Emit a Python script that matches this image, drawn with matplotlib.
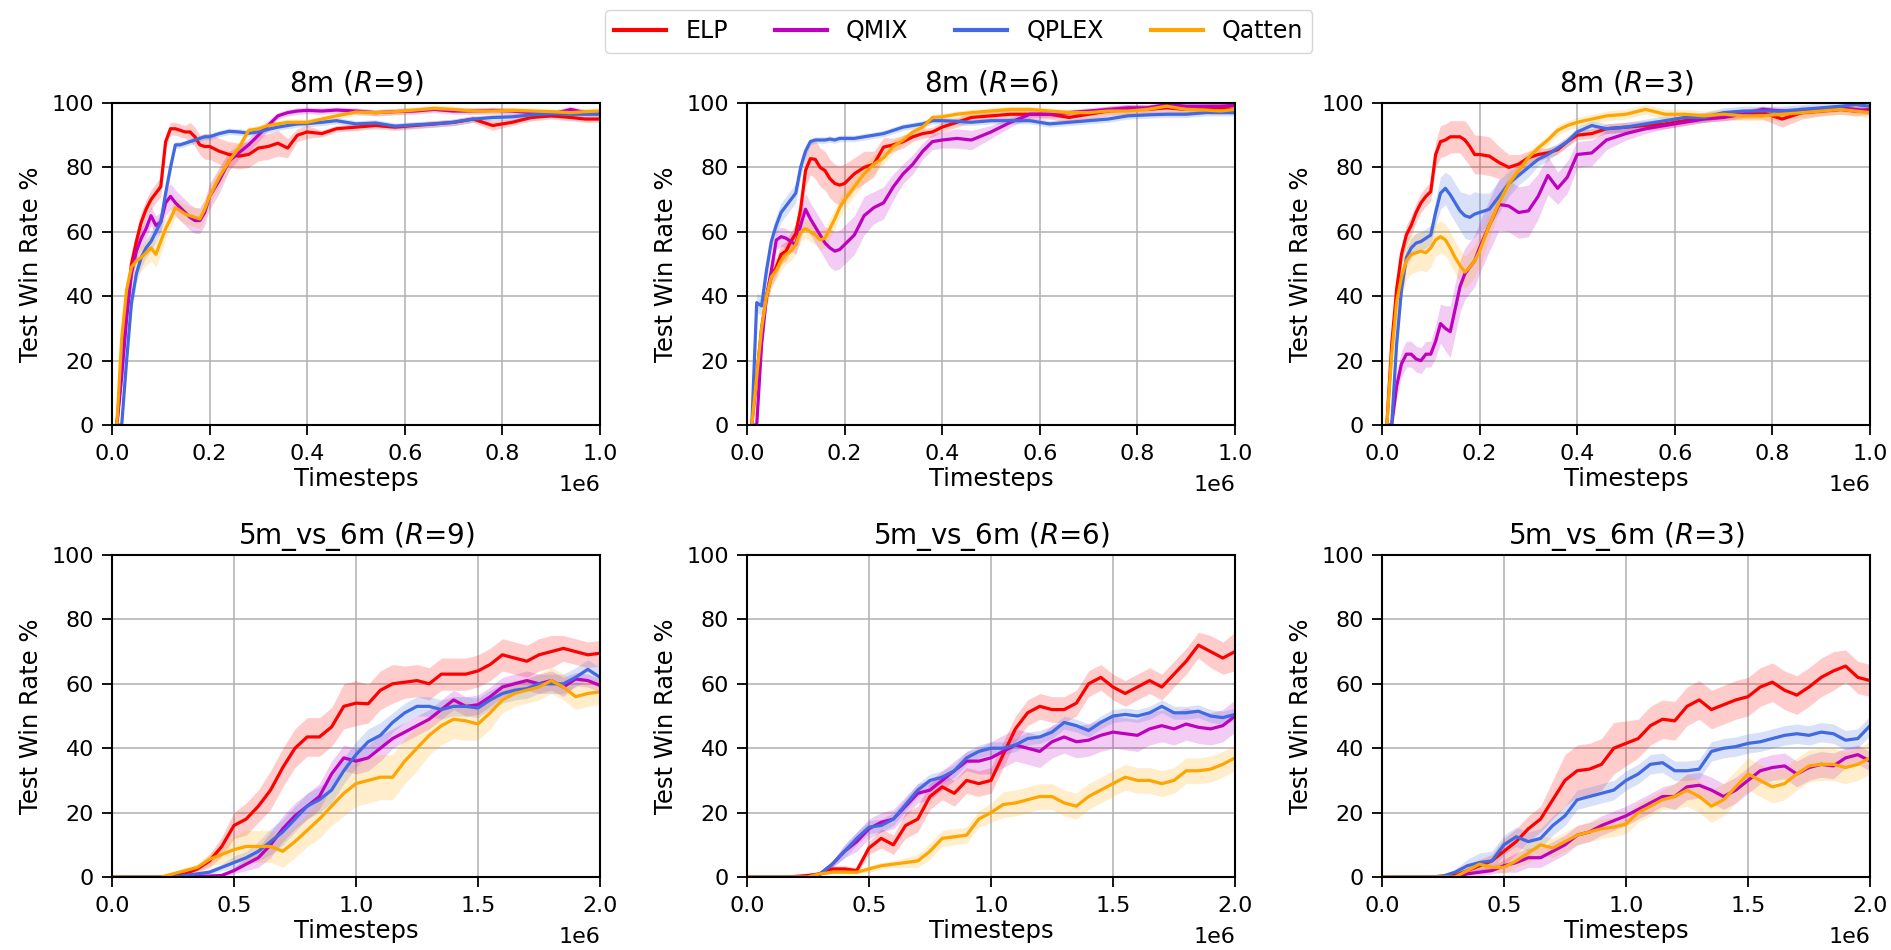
import numpy as np
import matplotlib
matplotlib.use("Agg")
from matplotlib import pyplot as plt

# shared x grids (timesteps)
x_8m = [0.01, 0.02, 0.03, 0.04, 0.05, 0.06, 0.07, 0.08, 0.09, 0.10,
        0.11, 0.12, 0.13, 0.14, 0.15, 0.16, 0.17, 0.18, 0.19, 0.20,
        0.22, 0.24, 0.26, 0.28, 0.30, 0.32, 0.34, 0.36, 0.38, 0.40,
        0.43, 0.46, 0.50, 0.54, 0.58, 0.62, 0.66, 0.70, 0.74, 0.78,
        0.82, 0.86, 0.90, 0.94, 0.97, 1.00]
x_5v6 = [0.00, 0.05, 0.10, 0.15, 0.20, 0.25, 0.30, 0.35, 0.40, 0.45,
         0.50, 0.55, 0.60, 0.65, 0.70, 0.75, 0.80, 0.85, 0.90, 0.95,
         1.00, 1.05, 1.10, 1.15, 1.20, 1.25, 1.30, 1.35, 1.40, 1.45,
         1.50, 1.55, 1.60, 1.65, 1.70, 1.75, 1.80, 1.85, 1.90, 1.95, 2.00]

methods = ['ELP', 'QMIX', 'QPLEX', 'Qatten']
colors = ['red', 'm', 'royalblue', 'orange']
titles = [r'8m ($R$=9)', r'8m ($R$=6)', r'8m ($R$=3)',
          r'5m_vs_6m ($R$=9)', r'5m_vs_6m ($R$=6)', r'5m_vs_6m ($R$=3)']

# ---- 8m, R=9 ----
elp_8m_r9 = [0, 18, 36, 50, 57, 63, 67, 70, 72, 74,
             88, 92, 92, 91.5, 91, 91, 89.5, 87, 86.5, 86.5,
             85, 84, 83.5, 84, 86, 86.5, 87.5, 86, 90, 91,
             90.5, 92, 92.5, 93, 92.5, 93, 93.5, 94, 95, 93,
             94, 95.5, 96, 95.5, 95, 95]
elp_8m_r9_sd = [0, 3, 3, 3, 3, 3, 3, 3, 3, 3,
                2, 2, 2, 2, 2, 3, 3, 3, 4, 4,
                4, 4, 4, 4, 4, 4, 4, 3, 2, 2,
                1, 1, 1, 1, 1, 1, 1, 1, 1, 1.5,
                1, 1, 1, 1, 1, 1]
qmix_8m_r9 = [0, 15, 33, 47, 54, 58, 61, 65, 62, 63,
              69, 71, 69, 67.5, 66, 64.5, 63.5, 63.5, 66, 71,
              76, 82, 84.5, 87, 90, 93, 96, 97, 97.5, 97.7,
              97.5, 97.8, 97.5, 97, 97.3, 97.5, 98, 97.5, 97.5, 97.7,
              97.5, 97, 96.5, 98, 97, 97]
qmix_8m_r9_sd = [0, 3, 3, 3, 3, 3, 3, 3, 3, 3,
                 4, 4, 4, 4, 4, 4, 4, 4, 4, 4,
                 4, 3, 2, 2, 2, 1.5, 1, 1, 1, 1,
                 1, 1, 1, 1, 1, 1, 1, 1, 1, 1,
                 1, 1, 1, 1, 1, 1]
qplex_8m_r9 = [0, 0, 20, 38, 47, 52, 55, 57, 60, 63,
               72, 80, 87, 87, 87.5, 88, 88.5, 89, 89.5, 89.5,
               90.5, 91.2, 91, 90.6, 91, 91.8, 92.5, 93, 93.5, 93.6,
               94, 94.5, 93.5, 93.8, 92.8, 93.2, 93.5, 94, 95, 95.5,
               95.7, 96.3, 96.7, 96.5, 96.5, 96.5]
qplex_8m_r9_sd = [0, 0, 3, 3, 3, 3, 3, 3, 3, 3,
                  2, 2, 1, 1, 1, 1, 1, 1, 1, 1,
                  1, 1, 1, 1, 1, 1, 1, 1, 1, 1,
                  1, 1, 1, 1, 1, 1, 1, 1, 1, 1,
                  1, 1, 1, 1, 1, 1]
qatten_8m_r9 = [0, 27, 42, 49, 51, 52, 53.5, 55, 53, 57,
                61, 64, 67.5, 66.5, 65.5, 65, 64.5, 64, 67, 71,
                77, 82, 86, 91.5, 92, 93, 93.5, 94, 94, 94,
                95, 96, 97.2, 97, 97.3, 97.8, 98.3, 98, 97.5, 97.5,
                97.7, 97.5, 97.3, 97, 97.3, 97.5]
qatten_8m_r9_sd = [0, 4, 4, 4, 4, 4, 4, 4, 4, 4,
                   3, 3, 3, 3, 3, 3, 3, 3, 3, 3,
                   3, 3, 2, 1, 1, 1, 1, 1, 1, 1,
                   1, 1, 1, 1, 1, 1, 1, 1, 1, 1,
                   1, 1, 1, 1, 1, 1]

# ---- 8m, R=6 ----
elp_8m_r6 = [0, 15, 30, 40, 46, 49, 53, 54, 57, 59.5,
             67, 79, 82.7, 82.5, 80, 79, 76.5, 75, 74.5, 75,
             78, 80, 81, 86.3, 87, 88, 89.5, 90.5, 91, 92.5,
             94, 95.5, 96, 96.5, 96.5, 96.5, 95.5, 96.5, 97.5, 98,
             98, 98.5, 98, 98.2, 98.5, 98]
elp_8m_r6_sd = [0, 3, 3, 3, 3, 3, 3, 3, 3, 3,
                4, 5, 5, 6, 6, 6, 6, 6, 6, 6,
                5, 5, 4, 3, 2, 2, 1.5, 1.5, 1.5, 1.5,
                1.5, 1.5, 1.5, 1.5, 1.5, 1.5, 1.5, 1.5, 1.5, 1.5,
                1.5, 1.5, 1.5, 1.5, 1.5, 1.5]
qmix_8m_r6 = [0, 0, 25, 40, 48, 57.4, 58.5, 58, 57, 56,
              62, 67, 64, 61.5, 59, 56.5, 55, 54, 54.5, 56,
              59, 65, 67.5, 69, 74, 78, 81, 85, 88, 88.5,
              89, 88.5, 91, 94, 96.5, 96.5, 97, 97.5, 98, 98.5,
              98.5, 99.5, 99, 99, 99, 99.3]
qmix_8m_r6_sd = [0, 0, 3, 3, 3, 3, 3, 3, 3, 3,
                 4, 5, 5, 5, 5, 5, 6, 6, 6, 6,
                 6, 6, 5, 5, 4, 3, 3, 2.5, 2.5, 2.5,
                 3, 3, 2, 1.5, 1, 1, 1, 1, 1, 1,
                 1, 1, 1, 1, 1, 1]
qplex_8m_r6 = [0, 38, 37, 48, 57, 62, 66, 68, 70, 72,
               80, 85, 88, 88.5, 88.5, 88.5, 88.8, 88.5, 89, 89,
               89, 89.5, 90, 90.5, 91.5, 92.5, 93, 93.5, 94.5, 94.5,
               94.3, 94, 94.5, 94.5, 94.5, 93.5, 94, 94.5, 95, 96,
               96.3, 96.5, 96.5, 97, 97, 97]
qplex_8m_r6_sd = [0, 3, 3, 3, 3, 3, 3, 3, 3, 3,
                  3, 2, 1, 1, 1, 1, 1, 1, 1, 1,
                  1, 1, 1, 1, 1, 1, 1, 1, 1, 1,
                  1, 1, 1, 1, 1, 1, 1, 1, 1, 1,
                  1, 1, 1, 1, 1, 1]
qatten_8m_r6 = [0, 15, 30, 40, 46, 48, 51, 53, 54, 56,
                60, 61, 60, 59, 57.5, 58, 61, 64, 67.5, 70,
                74, 78, 81, 83, 86.5, 88.5, 91, 92.5, 95.5, 95.7,
                96.5, 97, 97.5, 98, 98, 97.5, 97, 97, 97.5, 97.5,
                98, 99, 98, 97.8, 97.5, 98]
qatten_8m_r6_sd = [0, 3, 3, 3, 3, 3, 3, 3, 3, 3,
                   3, 3, 3, 3, 3, 3, 3, 3, 3, 3,
                   3, 3, 3, 2, 2, 1.5, 1, 1, 1, 1,
                   1, 1, 1, 1, 1, 1, 1, 1, 1, 1,
                   1, 1, 1, 1, 1, 1]

# ---- 8m, R=3 ----
elp_8m_r3 = [0, 25, 42, 53, 59, 62, 66, 69, 71, 72.5,
             84, 88, 88.5, 89.5, 89.5, 89.5, 88.5, 86.5, 84, 84,
             83.5, 81.5, 80, 81, 83, 84, 84.5, 85.5, 88, 90,
             90.5, 92, 92.5, 93, 93.5, 94.5, 95.5, 96, 96.5, 97,
             95, 97, 97.5, 98, 97.5, 98]
elp_8m_r3_sd = [0, 3, 3, 3, 3, 3, 3, 3, 3, 3,
                4, 5, 5, 5, 5, 5, 6, 6, 6, 6,
                6, 5, 4, 3, 2, 2, 1.5, 1.5, 1.5, 1.5,
                1.5, 1.5, 1.5, 1.5, 1.5, 1.5, 1.5, 1.5, 1.5, 2,
                2.5, 2, 1.5, 1.5, 1.5, 1.5]
qmix_8m_r3 = [0, 0, 12, 19, 22, 22, 20.5, 20, 22, 22,
              26, 31.5, 30, 29, 36, 43, 47, 49, 51, 55,
              62, 68.5, 68, 66, 66.5, 71, 77.5, 73.5, 77, 84,
              84.5, 88.5, 90.5, 92, 93, 94, 95, 95.5, 96.5, 98,
              97.5, 97.5, 98, 98.5, 98, 97.5]
qmix_8m_r3_sd = [0, 0, 4, 4, 4, 4, 4, 4, 4, 4,
                 5, 6, 7, 8, 8, 8, 8, 8, 8, 8,
                 8, 8, 8, 8, 8, 7, 6, 5, 5, 4,
                 4, 3, 2, 1.5, 1, 1, 1, 1, 1, 1,
                 1, 1, 1, 1, 1, 1]
qplex_8m_r3 = [0, 0, 25, 42, 52, 55, 56.5, 57, 58, 59,
               66, 72, 73.5, 71.5, 69, 66.5, 65, 64.5, 65.5, 66,
               67, 71, 75, 77.5, 80, 82.5, 84, 86, 88, 91,
               93, 92, 92.5, 93.5, 94.5, 95.5, 95.5, 97, 97.5, 97.5,
               97.5, 98, 98.5, 99, 99.5, 99]
qplex_8m_r3_sd = [0, 0, 3, 3, 3, 3, 3, 3, 3, 3,
                  4, 5, 5, 6, 6, 6, 7, 7, 7, 6,
                  5, 5, 4, 3, 3, 2, 2, 1.5, 1.5, 1.5,
                  1.5, 1.5, 1.5, 1.5, 1.5, 1.5, 1.5, 1.5, 1.5, 1.5,
                  1.5, 1.5, 1.5, 1.5, 1.5, 1.5]
qatten_8m_r3 = [0, 22, 38, 46, 51, 53, 53.5, 54, 53.5, 55,
                57.5, 58.5, 57.5, 55, 52, 49.5, 47.5, 49, 51, 54,
                62, 69, 75, 79, 83, 86, 88.5, 91.5, 93, 94,
                95, 96, 96.5, 98, 96.5, 96.5, 96, 96.5, 96, 96,
                96.5, 97, 97.5, 98, 97.5, 97]
qatten_8m_r3_sd = [0, 6, 6, 6, 6, 6, 6, 6, 6, 6,
                   5, 5, 5, 5, 5, 5, 5, 5, 5, 5,
                   4, 3, 3, 2, 2, 1.5, 1.5, 1.5, 1.5, 1.5,
                   1.5, 1.5, 1.5, 1.5, 1.5, 1.5, 1.5, 1.5, 1.5, 1.5,
                   1.5, 1.5, 1.5, 1.5, 1.5, 1.5]

# ---- 5m_vs_6m, R=9 ----
elp_5v6_r9 = [0, 0, 0, 0, 0, 0.5, 1, 2.5, 5, 9.5,
              16, 18, 22, 27, 34, 40, 43.5, 43.5, 46.6, 53,
              54, 53.8, 58, 60, 60.5, 61, 60, 63, 63, 63,
              64, 66, 69, 68, 67, 69, 70, 71, 70, 69, 69.5]
elp_5v6_r9_sd = [0, 0, 0, 0, 0, 0.3, 0.5, 1, 2, 3,
                 4, 5, 5, 6, 6, 6, 6, 6, 6, 7,
                 7, 6, 6, 6, 5, 5, 5, 5, 5, 5,
                 5, 5, 5, 5, 5, 5, 5, 4, 4, 4, 4]
qmix_5v6_r9 = [0, 0, 0, 0, 0, 0, 0, 0.2, 0.3, 0.5,
               2, 4, 6, 10, 15, 19, 22, 25, 32, 37,
               36, 37, 40, 43, 45, 47, 49, 52, 55, 53,
               53.5, 56, 59, 60, 61, 60, 61, 59, 61.5, 61, 59.5]
qmix_5v6_r9_sd = [0, 0, 0, 0, 0, 0, 0, 0.2, 0.3, 0.5,
                  1, 2, 3, 4, 4, 4, 4, 4, 4, 4,
                  4, 4, 4, 3, 3, 3, 3, 3, 3, 3,
                  3, 3, 3, 3, 3, 3, 3, 3, 2, 2, 2]
qplex_5v6_r9 = [0, 0, 0, 0, 0, 0, 0.5, 1, 1.5, 3,
                4.5, 6, 8, 11, 14, 18, 22, 24, 27, 33,
                38, 42, 44, 48, 51, 53, 53, 52, 53, 53,
                52.5, 55, 57, 58, 58.5, 60, 60, 60, 62, 64.5, 62]
qplex_5v6_r9_sd = [0, 0, 0, 0, 0, 0, 0.3, 0.5, 1, 1,
                   2, 2, 3, 4, 4, 4, 4, 4, 4, 4,
                   4, 4, 4, 3, 3, 3, 3, 3, 3, 3,
                   3, 3, 3, 3, 3, 3, 3, 3, 3, 3, 3]
qatten_5v6_r9 = [0, 0, 0, 0, 0, 1, 2, 3, 5.5, 7,
                 8.5, 9.5, 9.5, 9.5, 8, 11, 14.5, 18, 22, 26,
                 29, 30, 31, 31, 36, 40, 44, 47, 49, 48.5,
                 47.5, 51, 55, 57, 58, 59, 61, 59, 56, 57, 57.5]
qatten_5v6_r9_sd = [0, 0, 0, 0, 0, 0.5, 1, 1, 2, 3,
                    4, 5, 5, 5, 5, 5, 5, 6, 6, 7,
                    7, 7, 7, 7, 7, 7, 6, 6, 6, 6,
                    5, 5, 4, 4, 4, 4, 4, 4, 4, 4, 4]

# ---- 5m_vs_6m, R=6 ----
elp_5v6_r6 = [0, 0, 0, 0, 0.2, 0.5, 1, 2.5, 2.5, 2,
              9, 12, 10, 16, 18, 25, 28, 26, 30, 29,
              30, 38, 46, 51, 53, 52, 52, 54, 60, 62,
              59, 57, 59, 61, 59, 63, 67, 72, 70, 68, 70]
elp_5v6_r6_sd = [0, 0, 0, 0, 0, 0.3, 0.5, 1, 1, 1,
                 2, 3, 3, 4, 4, 4, 4, 4, 4, 4,
                 4, 4, 4, 4, 4, 4, 4, 4, 4, 4,
                 4, 4, 4, 4, 4, 4, 4, 4, 5, 5, 6]
qmix_5v6_r6 = [0, 0, 0, 0, 0, 0, 1, 4, 8, 11,
               15, 17, 18, 22, 26, 27, 30, 33, 36, 36,
               37, 39, 41, 40, 39, 42, 43.5, 42, 42.5, 44,
               45, 44.5, 44, 46, 47, 46, 47.5, 46.5, 46, 47, 50]
qmix_5v6_r6_sd = [0, 0, 0, 0, 0, 0, 0.5, 1, 2, 3,
                  3, 3, 3, 3, 3, 3, 3, 3, 3, 4,
                  5, 5, 5, 5, 5, 5, 5, 5, 5, 5,
                  5, 5, 5, 5, 5, 5, 5, 5, 5, 5, 5]
qplex_5v6_r6 = [0, 0, 0, 0, 0, 0, 1, 4, 8, 12,
                15.5, 16, 18, 22.5, 27, 30, 31, 33, 37, 39,
                40, 40, 41, 43, 43.5, 45, 48, 47, 45.5, 48,
                50, 50.5, 50, 51, 53, 51, 51, 51.5, 50, 49.5, 50.5]
qplex_5v6_r6_sd = [0, 0, 0, 0, 0, 0, 0.5, 1, 2, 2,
                   2, 2, 2, 2, 2, 2, 2, 2, 2, 2,
                   2, 2, 2, 2, 2, 2, 2, 2, 2, 2,
                   2, 2, 2, 2, 2, 2, 2, 2, 2, 2, 2]
qatten_5v6_r6 = [0, 0, 0, 0, 0, 0, 1, 1.5, 1.5, 1.5,
                 2.5, 3.5, 4, 4.5, 5, 8, 12, 12.5, 13, 18,
                 20, 22.5, 23, 24, 25, 25, 23, 22, 25, 27,
                 29, 31, 30, 30, 29, 30, 33, 33, 33.5, 35, 37]
qatten_5v6_r6_sd = [0, 0, 0, 0, 0, 0, 0.5, 0.5, 0.5, 0.5,
                    1, 1, 1, 1.5, 2, 2.5, 2.5, 2.5, 2.5, 2.5,
                    3, 4, 4, 4, 4, 4, 4, 4, 4, 4,
                    4, 4, 4, 4, 4, 4, 4, 4, 4, 4, 4]

# ---- 5m_vs_6m, R=3 ----
elp_5v6_r3 = [0, 0, 0, 0, 0, 0.3, 0.5, 2, 3.5, 5,
              8, 11, 15, 18, 24, 30, 33, 33.5, 35, 40,
              41.5, 43, 47, 49, 48.5, 53, 55, 52, 53.5, 55,
              56, 59, 60.5, 58, 56.5, 59, 62, 64, 65.5, 62, 61]
elp_5v6_r3_sd = [0, 0, 0, 0, 0, 0.3, 0.5, 1, 2, 2,
                 4, 4, 4, 4, 6, 8, 8, 8, 8, 8,
                 7, 6, 6, 6, 6, 6, 6, 6, 6, 6,
                 6, 6, 6, 6, 6, 6, 6, 6, 5, 5, 5]
qmix_5v6_r3 = [0, 0, 0, 0, 0, 0, 0, 1, 1.5, 2,
               3.5, 4.5, 6, 6, 8, 10, 13, 14, 16, 17.5,
               19, 21, 23, 25, 25, 28, 28.5, 27, 25, 27,
               30, 33, 34, 34.5, 32, 34, 35, 34.5, 37, 38, 36]
qmix_5v6_r3_sd = [0, 0, 0, 0, 0, 0, 0, 0.5, 1, 1,
                  2, 3, 3, 3, 3, 3, 3, 3, 3, 3,
                  3, 3, 3, 3, 4, 4, 4, 4, 4, 4,
                  4, 4, 4, 4, 4, 4, 4, 4, 3, 3, 3]
qplex_5v6_r3 = [0, 0, 0, 0, 0, 0.3, 1.5, 3.5, 4.5, 5,
                10, 12.5, 11, 12, 16, 19, 24, 25, 26, 27,
                30, 32, 35, 35.5, 33, 33, 33.5, 39, 40, 40.5,
                41.5, 42, 43, 44, 44.5, 44, 45, 44.5, 42.5, 43, 47]
qplex_5v6_r3_sd = [0, 0, 0, 0, 0, 0.3, 1, 2, 3, 3,
                   3, 3, 3, 3, 3, 3, 3, 3, 3, 3,
                   3, 3, 3, 3, 3, 3, 3, 3, 3, 3,
                   3, 3, 3, 3, 3, 3, 3, 3, 3, 3, 3]
qatten_5v6_r3 = [0, 0, 0, 0, 0, 0, 0, 2, 4, 3,
                 3, 5, 7.5, 10, 9, 11, 13, 14, 15, 15.5,
                 16.5, 20, 22, 24, 25, 27, 25, 22, 24, 28,
                 32, 30, 28, 29, 32, 34.5, 35, 35, 34, 35, 37]
qatten_5v6_r3_sd = [0, 0, 0, 0, 0, 0, 0, 1, 1, 1,
                    2, 2, 3, 3, 3, 3, 3, 3, 3, 3,
                    3, 3, 3, 3, 4, 5, 5, 5, 5, 5,
                    5, 5, 5, 5, 5, 5, 5, 5, 5, 5, 5]

panels = [
    (x_8m, [(elp_8m_r9, elp_8m_r9_sd), (qmix_8m_r9, qmix_8m_r9_sd),
            (qplex_8m_r9, qplex_8m_r9_sd), (qatten_8m_r9, qatten_8m_r9_sd)]),
    (x_8m, [(elp_8m_r6, elp_8m_r6_sd), (qmix_8m_r6, qmix_8m_r6_sd),
            (qplex_8m_r6, qplex_8m_r6_sd), (qatten_8m_r6, qatten_8m_r6_sd)]),
    (x_8m, [(elp_8m_r3, elp_8m_r3_sd), (qmix_8m_r3, qmix_8m_r3_sd),
            (qplex_8m_r3, qplex_8m_r3_sd), (qatten_8m_r3, qatten_8m_r3_sd)]),
    (x_5v6, [(elp_5v6_r9, elp_5v6_r9_sd), (qmix_5v6_r9, qmix_5v6_r9_sd),
             (qplex_5v6_r9, qplex_5v6_r9_sd), (qatten_5v6_r9, qatten_5v6_r9_sd)]),
    (x_5v6, [(elp_5v6_r6, elp_5v6_r6_sd), (qmix_5v6_r6, qmix_5v6_r6_sd),
             (qplex_5v6_r6, qplex_5v6_r6_sd), (qatten_5v6_r6, qatten_5v6_r6_sd)]),
    (x_5v6, [(elp_5v6_r3, elp_5v6_r3_sd), (qmix_5v6_r3, qmix_5v6_r3_sd),
             (qplex_5v6_r3, qplex_5v6_r3_sd), (qatten_5v6_r3, qatten_5v6_r3_sd)]),
]

fig = plt.figure(figsize=(18.91, 9.5), dpi=100)
lefts = [0.0592, 0.3950, 0.7308]
bottoms = [0.5526, 0.0768]
w, h = 0.2581, 0.339

handles = []
for k, (xs, series) in enumerate(panels):
    ax = fig.add_axes([lefts[k % 3], bottoms[k // 3], w, h])
    x = np.array(xs) * 1e6
    for (mean, sd), c, name in zip(series, colors, methods):
        mean = np.array(mean, dtype=float)
        sd = np.array(sd, dtype=float)
        ax.fill_between(x, np.clip(mean - sd, 0, 100), np.clip(mean + sd, 0, 100),
                        color=c, alpha=0.2, linewidth=0)
        ln, = ax.plot(x, mean, color=c, lw=2.3, label=name)
        if k == 0:
            handles.append(ln)
    ax.set_ylim(0, 100)
    if k < 3:
        ax.set_xlim(0, 1e6)
        ax.set_xticks(np.arange(0, 1.01, 0.2) * 1e6)
    else:
        ax.set_xlim(0, 2e6)
        ax.set_xticks(np.arange(0, 2.01, 0.5) * 1e6)
    ax.set_yticks([0, 20, 40, 60, 80, 100])
    ax.grid(True, color='#b0b0b0', lw=1.1)
    ax.set_axisbelow(True)
    ax.tick_params(labelsize=16, length=7, width=1.3)
    ax.tick_params(axis='x', pad=7)
    ax.tick_params(axis='y', pad=6)
    for s in ax.spines.values():
        s.set_linewidth(1.5)
    # scale label placed like the offset text, level with the axis label
    ax.xaxis.get_offset_text().set_visible(False)
    ax.text(1.0, -0.155, '1e6', transform=ax.transAxes, ha='right', va='top',
            fontsize=16)
    ax.set_title(titles[k], fontsize=20, pad=8)
    ax.set_xlabel('Timesteps', fontsize=17.5, labelpad=2)
    ax.set_ylabel('Test Win Rate %', fontsize=17.5, labelpad=6)

fig.legend(handles=handles, labels=methods, loc='center', ncol=4,
           bbox_to_anchor=(0.507, 0.967), fontsize=17, handlelength=2.2,
           columnspacing=2.0, frameon=True)
for lh in fig.legends[0].get_lines():
    lh.set_linewidth(3)

fig.savefig('out.png', dpi=100)
